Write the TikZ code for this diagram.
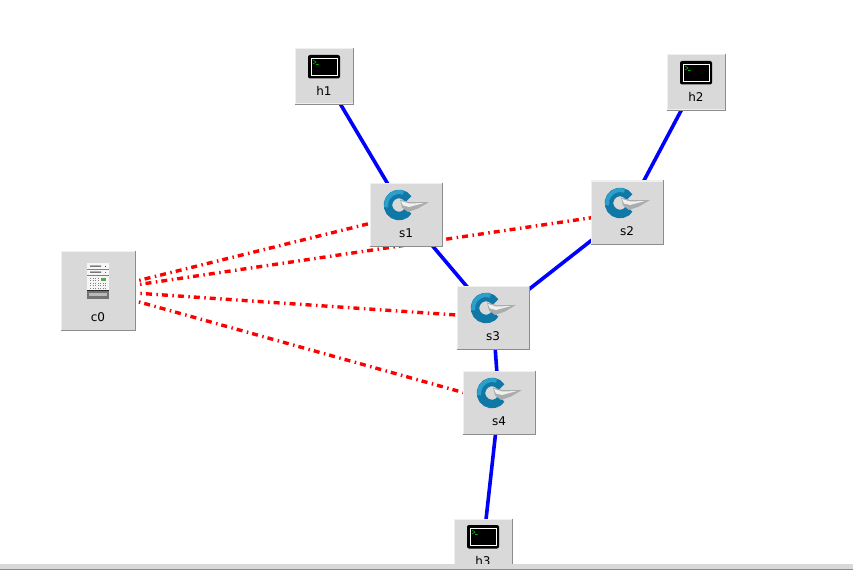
\documentclass[tikz,border=0pt]{standalone}
\usepackage{fontspec}
\setmainfont{DejaVu Sans}
\usetikzlibrary{backgrounds}
\definecolor{btngray}{HTML}{D9D9D9}
\definecolor{btnlight}{HTML}{EFEFEF}
\definecolor{btndark}{HTML}{8C8C8C}
\definecolor{ringblue}{HTML}{0F78A6}
\definecolor{ringlight}{HTML}{2E9FCB}
\definecolor{wingray}{HTML}{A9ADAD}
\definecolor{barline}{HTML}{8C8C8C}
\tikzset{
	device/.style={fill=btngray, draw=btnlight, line width=1pt, inner sep=0pt, font=\fontsize{12}{13}\selectfont, text=black,
		append after command={
			[every edge/.style={}]
			(\tikzlastnode.north east) edge[draw=btndark, line width=1pt] (\tikzlastnode.south east)
			(\tikzlastnode.south west) edge[draw=btndark, line width=1pt] (\tikzlastnode.south east)
		}},
	hostbox/.style={device, minimum width=58pt, minimum height=55pt, text height=43pt, text depth=5pt},
	switchbox/.style={device, minimum width=72pt, minimum height=63pt, text height=50pt, text depth=5pt},
	ctrlbox/.style={device, minimum width=74pt, minimum height=79pt, text height=66pt, text depth=5pt},
	datalink/.style={draw=blue, line width=3.6pt},
	ctrllink/.style={draw=red, line width=3.4pt, dash pattern=on 6pt off 4.5pt on 1.5pt off 4pt},
	termicon/.pic={
		\fill[black, rounded corners=2pt] (-16,-21.5) rectangle (16,2);
		\draw[white, line width=0.8pt] (-13,-18.5) rectangle (13,-1);
		\draw[green!70!black, line width=0.6pt] (-11,-16.5) -- (-8,-14.5) -- (-11,-12.5) (-8,-12) -- (-5.5,-12);
	},
	switchicon/.pic={
		\draw[ringblue, line width=8.5pt] (-7,-9.5) ++(32:11) arc[start angle=32, end angle=328, radius=11];
		\draw[ringlight, line width=4pt] (-7,-9.5) ++(170:13) arc[start angle=170, end angle=290, radius=13];
		\fill[wingray] (-6,-15) -- (3,-12.5) -- (23,-12.5) -- (12,-6) -- (2,-2.5) -- (-4,-7) -- cycle;
		\fill[white!88!gray] (-5,-13.5) -- (3,-11) -- (18,-11.5) -- (3,-7.5) -- (-3,-9) -- cycle;
	},
	servericon/.pic={
		\fill[white!93!gray] (-11,-27.5) rectangle (11,-0.5);
		\draw[gray, line width=0.8pt] (-11,-21) -- (11,-21) (-11,-15) -- (11,-15);
		\fill[black!80] (-8,-25) rectangle (3,-24) (-8,-19) rectangle (3,-18);
		\fill[red!80!black] (7,-25) rectangle (8,-24);
		\fill[green!70!black] (7,-19) rectangle (8,-18);
		\fill[gray!70!green] (3,-13) rectangle (8,-10);
		\draw[gray, line width=1pt, dash pattern=on 1pt off 1.5pt] (-8,-12.5) -- (1,-12.5) (-8,-10) -- (1,-10) (-8,-7.5) -- (8,-7.5) (-8,-5) -- (8,-5) (-8,-2.5) -- (8,-2.5);
		\fill[black!85] (-11,-0.5) rectangle (11,0.5);
		\fill[gray!90!black] (-11,0.5) rectangle (11,8);
		\fill[gray!55] (-9,2) rectangle (9,5);
	},
}
\begin{document}
\begin{tikzpicture}[x=1pt, y=-1pt]
	\useasboundingbox (0,0) rectangle (853,572);

	\node[hostbox] (h1) at (324,76.5) {h1};
	\node[hostbox] (h2) at (696,82.5) {h2};
	\node[hostbox] (h3) at (483,546.5) {h3};
	\node[switchbox] (s1) at (406,214.5) {s1};
	\node[switchbox] (s2) at (627,212.5) {s2};
	\node[switchbox] (s3) at (493,317.5) {s3};
	\node[switchbox] (s4) at (499,402.5) {s4};
	\node[ctrlbox] (c0) at (98,290.5) {c0};

	\pic at (h1.center) {termicon};
	\pic at (h2.center) {termicon};
	\pic at (h3.center) {termicon};
	\pic at (s1.center) {switchicon};
	\pic at (s2.center) {switchicon};
	\pic at (s3.center) {switchicon};
	\pic at (s4.center) {switchicon};
	\pic at (c0.center) {servericon};

	\begin{scope}[on background layer]
		\fill[white] (0,0) rectangle (853,572);
		\draw[datalink] (h1.center) -- (s1.center);
		\draw[datalink] (h2.center) -- (s2.center);
		\draw[datalink] (s1.center) -- (s3.center);
		\draw[datalink] (s2.center) -- (s3.center);
		\draw[datalink] (s3.center) -- (s4.center);
		\draw[datalink] (s4.center) -- (h3.center);
		\draw[ctrllink] (c0.center) -- (s1.center);
		\draw[ctrllink] (c0.center) -- (s2.center);
		\draw[ctrllink] (c0.center) -- (s3.center);
		\draw[ctrllink] (c0.center) -- (s4.center);
	\end{scope}

	% status bar along the window bottom
	\fill[white] (0,564) rectangle (853,572);
	\fill[btngray] (0,564) rectangle (853,568.5);
	\draw[barline, line width=1pt] (0,569) -- (853,569);
\end{tikzpicture}
\end{document}
